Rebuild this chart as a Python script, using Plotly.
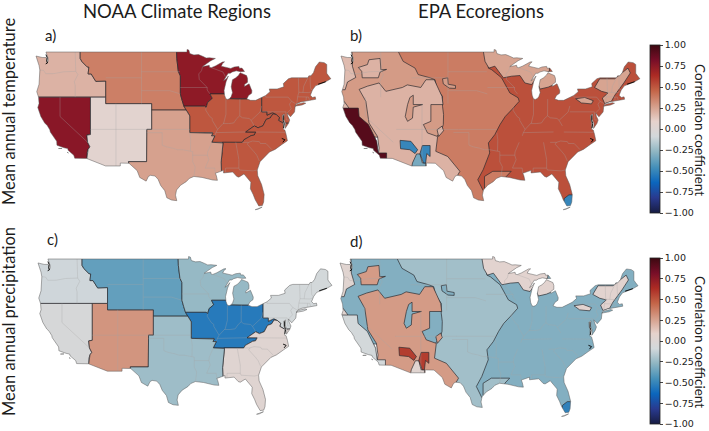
import plotly.graph_objects as go
from plotly.colors import sample_colorscale, cmocean

# ---------- chart values ----------
TICKS = [-1, -0.75, -0.5, -0.25, 0, 0.25, 0.5, 0.75, 1]
NOAA_NAMES = ["Northwest", "West", "Southwest", "NRockies", "UpperMidwest", "OhioValley", "Northeast", "Southeast", "South"]
NOAA_TEMP = [0.20, 0.76, 0.05, 0.37, 0.74, 0.50, 0.50, 0.50, 0.26]
NOAA_PRECIP = [-0.10, -0.05, 0.30, -0.38, -0.25, -0.55, -0.08, 0.03, -0.23]
ECO_NAMES = ["Plains", "EastForest", "NorthForest", "MountainsW", "Marine", "Deserts", "MedCal", "Sierras", "SemiArid", "Tropical"]
ECO_TEMP = [0.38, 0.52, 0.25, 0.28, 0.17, 0.20, 0.92, -0.50, -0.33, -0.50]
ECO_PRECIP = [-0.22, -0.30, 0.05, -0.30, 0.04, 0.28, -0.08, 0.58, 0.04, -0.52]

# ---------- map geometry (lon, lat) ----------
US_OUTLINE = [(-124.7,48.38),(-123.5,48.15),(-122.75,48.15),(-122.6,47.9),(-122.5,47.3),(-122.3,47.6),(-122.3,47.95),(-122.5,48.4),(-122.75,49),
(-95.15,49),(-95.15,49.38),(-94.8,49.3),(-94.6,48.75),(-93.8,48.55),(-92.9,48.6),(-92,48.3),(-91.4,48.07),(-90.75,48.1),(-89.6,48),
(-90.5,47.65),(-91.3,47.25),(-92.1,46.75),(-91.2,46.87),(-90.8,46.95),(-90.75,46.65),(-90.4,46.57),(-89.6,46.83),(-88.9,47.1),(-88.2,47.45),(-87.8,47.47),(-88.2,47.2),(-88.45,46.8),(-87.4,46.55),(-86.6,46.45),(-85.9,46.68),(-85,46.77),(-84.9,46.48),(-84.4,46.5),(-84.1,46.2),(-83.9,45.98),(-84.7,45.95),
(-85.5,46.08),(-86.3,45.9),(-86.7,45.7),(-87.1,45.7),(-87.6,45.1),(-88,44.55),(-87.4,44.9),(-87.05,45.28),(-87.5,44.4),(-87.75,43.7),(-87.9,43.05),(-87.8,42.3),(-87.55,41.75),(-87.2,41.65),(-86.8,41.78),(-86.5,42.1),(-86.25,42.7),(-86.5,43.6),(-86.25,44.7),(-85.6,45),(-85.05,45.4),(-84.75,45.78),
(-83.5,45.35),(-83.3,44.9),(-83.3,44.3),(-83.9,43.95),(-83.9,43.65),(-83,44.07),(-82.45,43),(-82.5,42.6),(-83.1,42.25),(-83.45,41.72),(-82.7,41.5),(-81.7,41.5),(-80.5,41.97),(-79.75,42.27),(-78.9,42.85),(-79.05,43.27),(-77.5,43.27),(-76.5,43.5),(-76.2,43.6),(-76.3,44.1),(-75.3,44.85),(-74.7,45),
(-71.5,45),(-71.3,45.3),(-70.9,45.3),(-70.4,45.8),(-70.25,46.2),(-70,46.7),(-69.25,47.45),(-68.3,47.35),(-67.8,47.07),(-67.8,45.7),(-67.45,45.3),(-67,44.85),(-68.2,44.3),(-69,44.05),(-70,43.75),(-70.6,43.1),(-70.8,42.75),(-71,42.3),(-70.6,41.95),(-70.05,42.05),(-69.95,41.67),(-70.65,41.55),(-71.4,41.45),(-72.9,41.25),(-73.65,41),(-73.9,40.8),
(-74,40.45),(-74.1,39.7),(-74.9,38.95),(-75.3,39.3),(-75.55,39.55),(-75.4,39.05),(-75.05,38.45),(-75.3,37.9),(-75.95,37.15),(-75.85,37.9),(-76.2,38.6),(-76.1,39.4),(-76.5,39.2),(-76.45,38.5),(-76.3,38),(-76.3,37),(-76,36.9),(-75.75,36.2),(-75.5,35.25),(-76.5,34.7),(-77.9,33.9),(-79,33.5),(-79.9,32.7),(-80.85,32),(-81.4,30.7),(-81.3,29.8),(-80.55,28.45),(-80.05,26.9),(-80.15,25.75),(-80.4,25.2),(-81.1,25.13),(-81.8,26.1),(-82.2,26.9),(-82.75,27.8),(-82.65,28.8),(-83.4,29.5),(-84,30.1),(-85,29.6),(-85.4,29.7),(-86.2,30.4),(-87.5,30.3),(-88,30.25),(-88,30.65),(-88.9,30.4),(-89.6,30.2),(-89.4,29.8),(-89.2,29.1),(-90.1,29.15),(-91.3,29.4),(-92.2,29.55),(-93.8,29.7),(-94.7,29.4),(-95.3,28.9),(-96.4,28.35),(-97.2,27.6),(-97.4,26.8),(-97.15,25.95),
(-98.2,26.05),(-99.1,26.4),(-99.5,27.5),(-100.3,28.3),(-100.8,29.25),(-101.4,29.77),(-102.3,29.88),(-102.7,29.7),(-103.15,28.98),(-104.4,29.55),(-104.9,30.6),(-106.5,31.75),(-108.2,31.78),(-108.2,31.33),(-111.07,31.33),(-114.8,32.5),(-117.12,32.53),(-117.3,33),(-118.4,33.75),(-118.5,34.03),(-119.2,34.15),(-120.6,34.55),(-120.65,35.15),(-121.9,36.6),(-122,36.95),(-122.5,37.6),(-123,38),(-123.75,39),(-124.35,40.4),(-124.1,41),(-124.2,42),(-124.55,42.85),(-124.1,44),(-123.95,46.2),(-124.1,46.9)]
LONG_ISLAND = [(-74,40.6),(-73.6,40.9),(-72.3,41.15),(-71.9,41.05),(-72.6,40.8),(-73.6,40.58)]
ISLANDS = [[(-81.8,24.55),(-81.3,24.7),(-80.5,25),(-80.45,24.95),(-81.3,24.6),(-81.8,24.55)],
           [(-120.3,34.03),(-119.6,34.05),(-119.6,33.95),(-120.2,33.95),(-120.3,34.03)],
           [(-118.6,33.45),(-118.35,33.35),(-118.5,33.3),(-118.6,33.45)]]
COAST_DETAIL = [[(-122.75,48.6),(-122.5,48.1),(-122.6,47.6),(-122.45,47.3),(-122.8,47.15)],
                [(-76.3,39.2),(-76.3,38.4),(-76.1,37.9),(-76.25,37.2)],
                [(-76.6,35.6),(-76,35.4),(-76.4,35)],
                [(-69.5,44),(-68.6,44.25),(-68,44.4)]]

# region boundary arcs
A_MT_ID = [(-116.05,49),(-116.05,48),(-115.7,47.5),(-114.7,46.7),(-114.35,46.65),(-114.5,45.6),(-113.9,45.6),(-113.45,44.95),(-113,44.45),(-111.05,44.5),(-111.05,42)]
A_42 = [(-111.05,42),(-114.04,42),(-126,42)]
A_NV_E = [(-114.04,42),(-114.04,36.2),(-114.75,36.1),(-114.6,35),(-114.15,34.3),(-114.5,33.9),(-114.7,33.4),(-114.72,32.72),(-115,31)]
A_NM_E = [(-102.05,41),(-102.05,37),(-103,37),(-103.05,32),(-106.6,32),(-106.53,31.78),(-107,31)]
A_MO_RIV = [(-97.2,50),(-97.2,49),(-97.15,48),(-96.85,46),(-96.45,45.3),(-96.45,43.5),(-96.45,42.5),(-96.1,41.5),(-95.85,40.7),(-95.75,40.6)]
A_IA_S = [(-95.75,40.6),(-91.7,40.6),(-91.4,40.4),(-91.1,41.2),(-90.2,41.8),(-90.65,42.5),(-87.8,42.5),(-87.2,41.76),(-84.8,41.7),(-83.45,41.72),(-82,41.72),(-80.52,42)]
A_APP = [(-80.52,42),(-80.52,39.72),(-79.48,39.72),(-79.48,39.2),(-78.4,39.6),(-77.72,39.32)]
A_VA_WV = [(-77.72,39.32),(-78.35,39.4),(-78.87,38.77),(-79.65,38.55),(-80.3,37.55),(-81.25,37.25),(-81.97,37.54),(-83.67,36.6),(-81.68,36.59),(-82,36.12),(-82.6,36.03),(-83.1,35.77),(-84,35.4),(-84.32,34.99),(-88.2,35)]
A_TN_W = [(-88.2,35),(-90.3,35),(-89.7,36),(-90.37,36),(-90.1,36.4),(-90.15,36.5),(-94.62,36.5),(-94.62,39.1),(-95.3,40),(-95.75,40.6)]
A_POTOMAC = [(-77.72,39.32),(-77.05,38.85),(-77.25,38.4),(-76.3,37.95),(-75.6,37.95),(-75.2,38.03),(-73,38)]
A_AL_MS = [(-88.2,35),(-88.1,34.9),(-88.47,31.9),(-88.4,30.3),(-88.4,23)]

STATE_LINES = [
 [(-124.5,46.25),(-123.2,46.15),(-122.8,45.65),(-121.2,45.65),(-119.3,45.93),(-116.92,46)],
 [(-117.03,49),(-117.04,46.42),(-116.92,46),(-116.5,45.5),(-117.2,44.4),(-117.03,43.8),(-117.03,42)],
 [(-120,42),(-120,39),(-114.6,35)],
 [(-111.05,45),(-104.05,45)],[(-104.05,49),(-104.05,41)],[(-104.05,45.94),(-96.56,45.94)],[(-104.05,43),(-98.5,43),(-96.45,42.5)],
 [(-114.04,37),(-102.05,37)],[(-109.05,41),(-109.05,31.33)],
 [(-103,36.5),(-100,36.5),(-100,34.56),(-99.2,34.3),(-98,34.1),(-97,33.85),(-96,33.85),(-94.48,33.64),(-94.04,33.55),(-94.04,31.99),(-93.55,31.2),(-93.8,29.7)],
 [(-102.05,37),(-94.62,37)],[(-94.62,36.5),(-94.43,35.4),(-94.48,33.64)],[(-94.04,33),(-91.15,33)],
 [(-90.3,35),(-91.1,33.5),(-91.15,33),(-90.9,32.3),(-91.6,31),(-89.73,31),(-89.6,30.2)],
 [(-92.1,46.75),(-92.3,46.1),(-92.85,45.6),(-92.75,44.75),(-91.2,43.5),(-91.2,43.1),(-90.65,42.5)],[(-96.45,43.5),(-91.2,43.5)],[(-90.4,46.57),(-89.1,46.13),(-88.1,45.9),(-87.6,45.1)],
 [(-91.4,40.4),(-91.5,40),(-90.7,39),(-90.2,38.7),(-90.2,38.4),(-89.5,37.3),(-89.15,37),(-89.5,36.5),(-89.7,36)],
 [(-87.53,41.7),(-87.53,39.35),(-87.95,38),(-88.1,37.9)],[(-84.8,41.7),(-84.82,39.1)],
 [(-89.15,37),(-88.1,37.9),(-87,37.9),(-86,38),(-85.4,38.7),(-84.82,39.1),(-84.3,38.8),(-83,38.7),(-82.6,38.4),(-81.75,39),(-80.85,39.7),(-80.52,40.64)],
 [(-82.6,38.4),(-81.97,37.54)],[(-89.5,36.5),(-88.07,36.5),(-83.67,36.6)],
 [(-81.68,36.59),(-75.9,36.55)],[(-84.32,34.99),(-83.1,35),(-82.3,35.2),(-81,35.1),(-80.8,34.82),(-79.67,34.8),(-78.55,33.86)],
 [(-83.1,35),(-83.35,34.7),(-82,33.5),(-81.5,33),(-81,32.1)],[(-85.6,35),(-85.18,32.87),(-85,32.3),(-85,31),(-84.86,30.7),(-82.2,30.57),(-81.45,30.7)],[(-87.6,30.3),(-87.6,31),(-85,31)],
 [(-79.76,42.27),(-79.76,42),(-75.35,42),(-74.7,41.36),(-75.1,40.9),(-74.75,40.2),(-75.55,39.55)],[(-74.7,41.36),(-73.9,41)],
 [(-73.35,45),(-73.25,43.6),(-73.27,42.75),(-73.5,42.05),(-73.65,41)],[(-71.5,45),(-72.3,43.7),(-72.46,42.73)],[(-71.08,45.3),(-70.98,43.4),(-70.7,43.07)],
 [(-73.5,42.05),(-71.38,42.02),(-71.15,41.5)],[(-73.27,42.75),(-71.3,42.7),(-70.8,42.87)],[(-71.8,42.02),(-71.85,41.32)],
 [(-80.52,39.72),(-75.79,39.72),(-75.7,38.46),(-75.05,38.45)],
]

def rev(a):
    return a[::-1]

NOAA_RINGS = {
 "Northwest": [[(-127,50),(-116.05,50)] + A_MT_ID + A_42[1:]],
 "West": [[(-127,42)] + rev(A_42)[1:2] + A_NV_E[1:] + [(-120,30),(-127,34)]],
 "Southwest": [[(-114.04,42),(-111.05,42),(-111.05,41)] + A_NM_E + [(-115,31)] + rev(A_NV_E)[1:]],
 "NRockies": [[(-116.05,50),(-97.2,50)] + A_MO_RIV[1:] + [(-95.3,40),(-102.05,40),(-102.05,41),(-111.05,41)] + rev(A_MT_ID)],
 "UpperMidwest": [A_MO_RIV + A_IA_S[1:-2] + [(-82,41.72),(-82,50)]],
 "OhioValley": [A_IA_S + A_APP[1:] + A_VA_WV[1:] + A_TN_W[1:]],
 "Northeast": [A_APP + A_POTOMAC[1:] + [(-60,38),(-60,50),(-75,50),(-80.52,44)]],
 "Southeast": [rev(A_POTOMAC) + A_VA_WV[1:] + A_AL_MS[1:] + [(-60,23),(-60,38)]],
 "South": [[(-102.05,37),(-102.05,40),(-95.3,40)] + A_TN_W[::-1][2:] + A_AL_MS[1:] + [(-107,23)] + rev(A_NM_E)[:-2]],
}

ECO_RINGS = {
 "Plains": [[(-116,50),(-83,50),(-83,23),(-116,23)]],
 "EastForest": [[(-96.25,46.5),(-95.6,46.25),(-93.7,45),(-92.1,42.65),(-90.5,41.9),(-90.3,41.35),(-91.75,40.05),(-93,39),(-94,37.75),(-95,36.2),(-96.25,34.9),(-96,33.35),(-97.25,30.75),(-98.3,29.2),(-97.35,27.65),(-96,26),(-85,23),(-60,23),(-60,51),(-96.25,51)]],
 "NorthForest": [[(-97.2,51),(-97.2,49),(-96.9,47.55),(-96.15,46.5),(-95,46.8),(-93.35,45),(-91.75,45.25),(-90.15,45.35),(-89.2,44.2),(-87.9,43.95),(-87.25,44.7),(-84.5,46),(-84,51)],
                 [(-86.3,43.25),(-84.7,43.55),(-83.4,44),(-82.75,44.7),(-83.4,45.7),(-84.7,45.85),(-86,45.6),(-86.95,44.7)],
                 [(-75.75,43.5),(-74.75,44.85),(-71.85,44.85),(-69.3,46.5),(-68.85,45.75),(-70.1,44.2),(-71.85,42.3),(-72.5,41.35),(-73.8,41),(-74.25,41.85),(-73.15,42.65),(-74.4,42.9)],
                 [(-79.4,41.75),(-77.65,41.95),(-76,41.45),(-76.35,40.95),(-78.3,41.1)]],
 "MountainsW": [[(-127,51),(-113.6,51),(-113.6,49),(-112.7,47.55),(-110.4,46.5),(-109.8,45.5),(-107.5,45),(-106.55,44.7),(-106.2,43.4),(-105.1,42.1),(-105.1,40.6),(-104.9,39.3),(-104.95,37.75),(-105.4,36.6),(-106.4,35.8),(-119,35.8),(-127,35.8)],
                [(-105.1,44.85),(-104.1,45),(-104,44),(-102.6,43.8),(-102.6,43.35),(-103.8,43.4),(-104.95,44.05)]],
 "Deserts": [[(-121.2,43.2),(-119.6,43.7),(-117.35,44.2),(-116.05,42.9),(-112.85,43.5),(-111.9,43.9),(-109.3,43.5),(-108.3,44.7),(-106.7,44.7),(-105.2,42.1),(-105,40.85),(-107.35,40.85),(-107.35,38.25),(-108.8,37.75),(-108,36.45),(-106.05,35.9),(-106.4,33.6),(-104.1,32.8),(-101.75,30.5),(-102.85,28.95),(-103,27),(-115,30),(-117.5,33),(-117.35,34.1),(-117.65,35.9),(-119.3,38),(-119.9,41.35)],
             [(-121.35,46.6),(-119.6,47.05),(-119.3,47.8),(-117.15,48),(-117,46.25),(-115.9,46.3),(-117.15,45.9),(-117.5,45),(-120.6,45),(-120.7,46)],
             [(-106.15,36.95),(-105.2,37.5),(-104.9,36.8),(-105.85,35.9)]],
 "MountainPatch": [[(-111.85,40.85),(-111.4,41.95),(-110.75,42.3),(-110.75,40.85),(-108.95,40.85),(-110.75,40.45),(-110.9,38.75),(-111.85,38.25),(-112.3,39)]],
 "Marine": [[(-127,50),(-122.6,50),(-122.5,46.8),(-121.85,45.05),(-123.45,44.35),(-123.9,43.15),(-127,43.15)],
            [(-127,41.35),(-124.1,41.35),(-123.15,40.3),(-123.45,39),(-127,39)]],
 "MedCal": [[(-123,40.3),(-121.35,40.3),(-121.2,39),(-119.4,37.75),(-117.8,35.15),(-117.5,33.35),(-115.9,33.35),(-115.9,32),(-118,31),(-122,33),(-126,38),(-126,40.3)]],
 "SemiArid": [[(-110.9,31.8),(-110.1,33.2),(-109.45,33.2),(-109,31.8),(-108.35,31.8),(-108.35,30.5),(-111.2,30.5)]],
 "Sierras": [[(-113.3,35.3),(-111.2,35.15),(-109.9,33.85),(-110.4,33.25),(-111.4,33.85),(-113.2,34)],
             [(-109,34.5),(-107.5,34.5),(-107.5,32.8),(-108.15,33.25),(-108.35,31.8),(-108.8,31.8),(-109,32.3),(-109.45,33.25)]],
 "GulfPlain": [[(-97,29.7),(-95.4,30.5),(-91.85,30.5),(-92.8,29.7),(-93,28),(-96,26.5),(-97,27.9)]],
 "Tropical": [[(-81.6,26.3),(-80.7,26.85),(-79,26.85),(-79,24.4),(-82,24.4)]],
}
ECO_ORDER = ["Plains", "EastForest", "NorthForest", "MountainsW", "Deserts", "MountainPatch", "Marine", "MedCal", "SemiArid", "Sierras", "GulfPlain", "Tropical"]
ECO_ALIAS = {"MountainPatch": "MountainsW", "GulfPlain": "Plains"}

# ---------- helpers ----------
CS = cmocean.balance
LON_RANGE = [-125.5, -66]
LAT_RANGE = [24, 50]

def col(v):
    return sample_colorscale(CS, [(v + 1) / 2])[0]

def clamp(p):
    return (min(max(p[0], LON_RANGE[0] + 0.3), LON_RANGE[1] - 0.3),
            min(max(p[1], LAT_RANGE[0] + 0.3), LAT_RANGE[1] - 0.3))

def xy(rings, close=True, inner=False):
    xs, ys = [], []
    for r in rings:
        pts = list(r) + ([r[0]] if close else [])
        if inner:
            pts = [clamp(p) for p in pts]
        xs += [p[0] for p in pts] + [None]
        ys += [p[1] for p in pts] + [None]
    return xs, ys

fig = go.Figure()
DARK = "rgba(40,40,45,0.85)"

def add_panel(i, x0, sx, y0, sy, rings, vals, order=None, alias=None):
    xa, ya = ("x", "y") if i == 1 else (f"x{i}", f"y{i}")
    order = order or list(rings)
    for name in order:
        v = vals[alias.get(name, name) if alias else name]
        xs, ys = xy(rings[name], inner=True)
        fig.add_trace(go.Scatter(x=xs, y=ys, mode="lines", fill="toself", fillcolor=col(v),
                                 line=dict(color=DARK, width=0.8), hoverinfo="skip", xaxis=xa, yaxis=ya, showlegend=False))
    xs, ys = xy(STATE_LINES, close=False, inner=True)
    fig.add_trace(go.Scatter(x=xs, y=ys, mode="lines", line=dict(color="rgba(165,165,165,0.45)", width=0.7),
                             hoverinfo="skip", xaxis=xa, yaxis=ya, showlegend=False))
    # white surround clips every region to the national outline
    box = [(-135, 15), (-55, 15), (-55, 58), (-135, 58)]
    xs, ys = xy([box, US_OUTLINE, LONG_ISLAND])
    fig.add_trace(go.Scatter(x=xs, y=ys, mode="lines", fill="toself", fillcolor="white", line=dict(width=0),
                             hoverinfo="skip", xaxis=xa, yaxis=ya, showlegend=False))
    xs, ys = xy([US_OUTLINE, LONG_ISLAND] + ISLANDS)
    fig.add_trace(go.Scatter(x=xs, y=ys, mode="lines", line=dict(color="rgb(90,90,90)", width=0.5),
                             hoverinfo="skip", xaxis=xa, yaxis=ya, showlegend=False))
    xs, ys = xy(COAST_DETAIL, close=False)
    fig.add_trace(go.Scatter(x=xs, y=ys, mode="lines", line=dict(color="black", width=0.9),
                             hoverinfo="skip", xaxis=xa, yaxis=ya, showlegend=False))
    W, H = 709, 431
    left = x0 + (LON_RANGE[0] + 124.7) * sx
    right = x0 + (LON_RANGE[1] + 124.7) * sx
    top = y0 + (49 - LAT_RANGE[1]) * sy
    bottom = y0 + (49 - LAT_RANGE[0]) * sy
    sfx = "" if i == 1 else str(i)
    fig.update_layout({
        "xaxis" + sfx: dict(range=LON_RANGE, domain=[left / W, right / W], visible=False, anchor=ya, fixedrange=True),
        "yaxis" + sfx: dict(range=LAT_RANGE, domain=[1 - bottom / H, 1 - top / H], visible=False, anchor=xa, fixedrange=True),
    })

add_panel(1, 36, 5.11, 52, 6.45, NOAA_RINGS, dict(zip(NOAA_NAMES, NOAA_TEMP)))
add_panel(2, 341, 5.18, 52, 6.45, ECO_RINGS, dict(zip(ECO_NAMES, ECO_TEMP)), ECO_ORDER, ECO_ALIAS)
add_panel(3, 38, 5.095, 259, 6.35, NOAA_RINGS, dict(zip(NOAA_NAMES, NOAA_PRECIP)))
add_panel(4, 340, 5.165, 259, 6.44, ECO_RINGS, dict(zip(ECO_NAMES, ECO_PRECIP)), ECO_ORDER, ECO_ALIAS)

def add_bar(top_px, length):
    fig.add_trace(go.Scatter(x=[None], y=[None], mode="markers", showlegend=False, hoverinfo="skip",
        marker=dict(color=[0], cmin=-1, cmax=1, colorscale="balance", showscale=True,
            colorbar=dict(x=650 / 709, xanchor="left", xpad=0, y=1 - top_px / 431, yanchor="top", ypad=0,
                          thickness=10, thicknessmode="pixels", len=length, lenmode="pixels",
                          tickvals=TICKS, tickformat=".2f", ticks="outside", ticklen=3, tickwidth=0.8,
                          outlinewidth=0.8, outlinecolor="#222",
                          tickfont=dict(family="DejaVu Sans", size=9.5, color="#222")))))
add_bar(45, 168)
add_bar(258, 166)

FONT = "Lato"
def label(text, x, y, size, angle=0):
    fig.add_annotation(text=text, x=x / 709, y=1 - y / 431, xref="paper", yref="paper", showarrow=False,
                       xanchor="center", yanchor="middle", textangle=angle,
                       font=dict(family=FONT, size=size, color="#1c1c1c"))

label("NOAA Climate Regions", 177, 11, 18.5)
label("EPA Ecoregions", 481, 11, 18.5)
label("Mean annual temperature", 9, 112, 16.5, -90)
label("Mean annual precipitation", 9, 322, 16.5, -90)
label("a)", 50, 35, 15)
label("b)", 356, 35, 15)
label("c)", 52, 239, 15)
label("d)", 356, 241, 15)
label("Correlation coefficient", 700, 130, 13.5, 90)
label("Correlation coefficient", 700, 342, 13.5, 90)

fig.update_layout(width=709, height=431, margin=dict(l=0, r=0, t=0, b=0),
                  paper_bgcolor="white", plot_bgcolor="white", showlegend=False)
fig.write_html("out.html", config={"displayModeBar": False}, post_script="document.body.style.margin='0';")
